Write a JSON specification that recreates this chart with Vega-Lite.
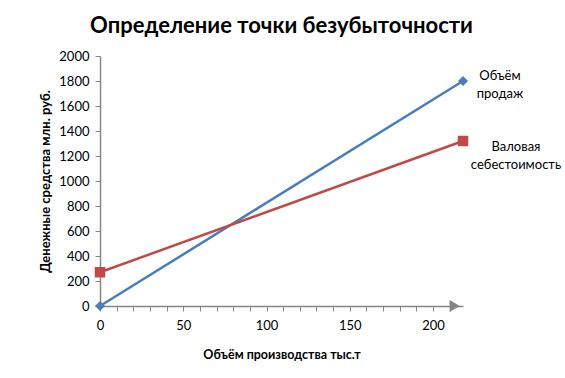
{
  "$schema": "https://vega.github.io/schema/vega-lite/v6.json",
  "autosize": "none",
  "width": 363,
  "height": 250,
  "padding": {"left": 100, "top": 56, "right": 102, "bottom": 72},
  "background": "white",
  "config": {
    "font": "Lato",
    "view": {"stroke": null},
    "axis": {"labelFont": "Lato", "titleFont": "Lato", "labelColor": "#000000", "titleColor": "#000000", "domainColor": "#868686", "tickColor": "#868686", "grid": false}
  },
  "title": {"text": "Определение точки безубыточности", "font": "Lato", "fontSize": 22, "fontWeight": "bold", "color": "#000000", "frame": "group", "anchor": "middle", "offset": 12},
  "datasets": {
    "lines": [
      {"series": "Объём продаж", "x": 0, "y": 0},
      {"series": "Объём продаж", "x": 218, "y": 1800},
      {"series": "Валовая себестоимость", "x": 0, "y": 270},
      {"series": "Валовая себестоимость", "x": 218, "y": 1320}
    ],
    "labels": [
      {"series": "Объём продаж", "x": 218, "y": 1800, "label": "Объём\nпродаж"},
      {"series": "Валовая себестоимость", "x": 218, "y": 1320, "label": "Валовая\nсебестоимость"}
    ],
    "arrow": [{"x": 213, "y": 0}]
  },
  "encoding": {
    "x": {"field": "x", "type": "quantitative", "scale": {"domain": [0, 218], "nice": false, "zero": false},
      "axis": {"values": [0,10,20,30,40,50,60,70,80,90,100,110,120,130,140,150,160,170,180,190,200,210], "tickCount": 22, "labelExpr": "datum.value % 50 === 0 ? format(datum.value, 'd') : ''", "labelOverlap": false, "labelFlush": false, "labelFontSize": 13, "labelPadding": 8, "tickSize": 5, "domainWidth": 1.5, "title": "Объём производства тыс.т", "titleFontSize": 12.5, "titleFontWeight": "bold", "titlePadding": 16}},
    "y": {"field": "y", "type": "quantitative", "scale": {"domain": [0, 2000], "nice": false, "zero": false},
      "axis": {"values": [0,200,400,600,800,1000,1200,1400,1600,1800,2000], "tickCount": 11, "format": "d", "labelOverlap": false, "labelFlush": false, "labelFontSize": 13, "labelPadding": 6, "tickSize": 5, "domainWidth": 1.5, "title": "Денежные средства млн. руб.", "titleFontSize": 13, "titleFontWeight": "bold", "titlePadding": 6}}
  },
  "layer": [
    {
      "data": {"name": "arrow"},
      "mark": {"type": "point", "shape": "triangle-right", "filled": true, "color": "#868686", "size": 140, "opacity": 1}
    },
    {
      "data": {"name": "lines"},
      "mark": {"type": "line", "strokeWidth": 2.5},
      "encoding": {
        "color": {"field": "series", "type": "nominal", "scale": {"domain": ["Объём продаж", "Валовая себестоимость"], "range": ["#4A7EBB", "#BE4B48"]}, "legend": null}
      }
    },
    {
      "data": {"name": "lines"},
      "mark": {"type": "point", "filled": true, "opacity": 1},
      "encoding": {
        "color": {"field": "series", "type": "nominal", "legend": null},
        "shape": {"field": "series", "type": "nominal", "scale": {"domain": ["Объём продаж", "Валовая себестоимость"], "range": ["diamond", "square"]}, "legend": null},
        "size": {"field": "series", "type": "nominal", "scale": {"domain": ["Объём продаж", "Валовая себестоимость"], "range": [100, 110]}, "legend": null}
      }
    },
    {
      "data": {"name": "labels"},
      "transform": [{"filter": "datum.series === 'Объём продаж'"}],
      "mark": {"type": "text", "lineBreak": "\n", "align": "center", "baseline": "middle", "dx": 37, "dy": -5, "fontSize": 13, "lineHeight": 18, "color": "#000000"},
      "encoding": {
        "text": {"field": "label"}
      }
    },
    {
      "data": {"name": "labels"},
      "transform": [{"filter": "datum.series === 'Валовая себестоимость'"}],
      "mark": {"type": "text", "lineBreak": "\n", "align": "center", "baseline": "middle", "dx": 53, "dy": 6, "fontSize": 13, "lineHeight": 18, "color": "#000000"},
      "encoding": {
        "text": {"field": "label"}
      }
    }
  ]
}
